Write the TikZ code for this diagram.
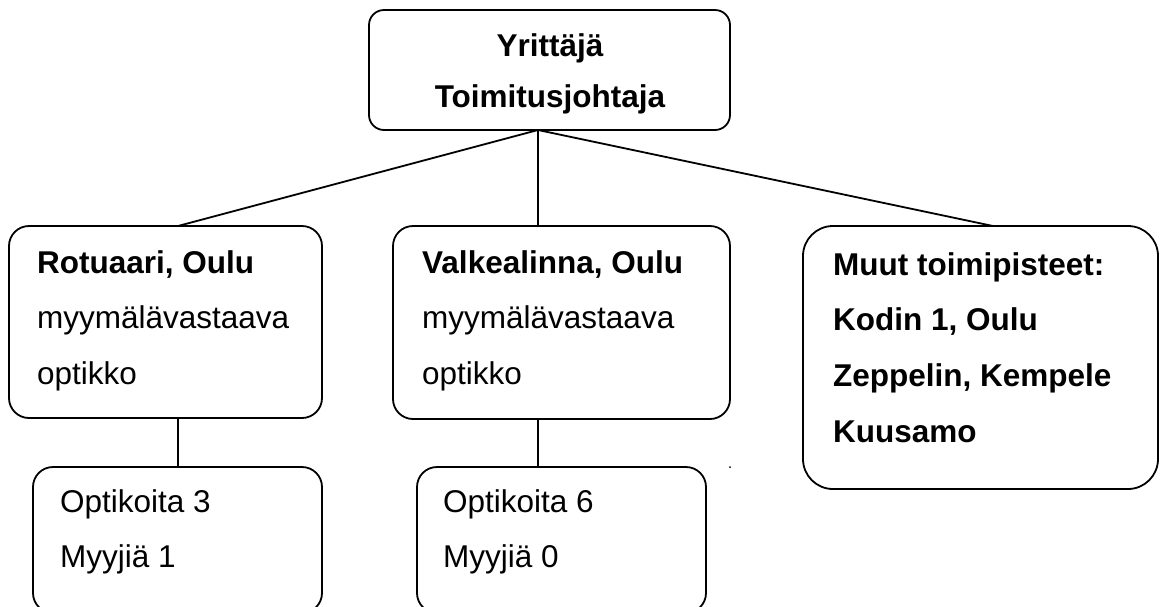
\documentclass[tikz,border=0pt]{standalone}
\usepackage{fontspec}
\setmainfont{Liberation Sans}
\begin{document}
\begin{tikzpicture}[x=1pt,y=-1pt,
  box/.style={draw, line width=1.8pt, rectangle, inner sep=0pt},
  txt/.style={anchor=base west, inner sep=0pt, font=\fontsize{31.5}{38}\selectfont},
  btxt/.style={txt, font=\fontsize{31.5}{38}\selectfont\bfseries},
  conn/.style={line width=1.8pt}]
\useasboundingbox (0,0) rectangle (1160,606);
\clip (0,0) rectangle (1160,606);
% boxes
\node[box, rounded corners=15pt, minimum width=361pt, minimum height=120pt] (top) at (549.5,70) {};
\node[box, rounded corners=20pt, minimum width=313pt, minimum height=192pt] (rot) at (165.5,322) {};
\node[box, rounded corners=20pt, minimum width=337pt, minimum height=193pt] (val) at (561.5,322.5) {};
\node[box, rounded corners=30pt, minimum width=355pt, minimum height=263pt] (muut) at (980.5,357.5) {};
\node[box, rounded corners=20pt, minimum width=289pt, minimum height=146pt] (rotb) at (177.5,540) {};
\node[box, rounded corners=20pt, minimum width=289pt, minimum height=146pt] (valb) at (561.5,540) {};
% texts
\node[btxt, anchor=base] (t1) at (550,56) {Yrittäjä};
\node[btxt, anchor=base] (t2) at (550,107) {Toimitusjohtaja};
\node[btxt] (r1) at (37,273) {Rotuaari, Oulu};
\node[txt] (r2) at (37,328) {myymälävastaava};
\node[txt] (r3) at (37,384) {optikko};
\node[btxt] (v1) at (422,273) {Valkealinna, Oulu};
\node[txt] (v2) at (422,328) {myymälävastaava};
\node[txt] (v3) at (422,384) {optikko};
\node[btxt] (m1) at (833,275) {Muut toimipisteet:};
\node[btxt] (m2) at (833,330) {Kodin 1, Oulu};
\node[btxt] (m3) at (833,386) {Zeppelin, Kempele};
\node[btxt] (m4) at (833,442) {Kuusamo};
\node[txt] (rb1) at (60,512) {Optikoita 3};
\node[txt] (rb2) at (60,567) {Myyjiä 1};
\node[txt] (vb1) at (443,512) {Optikoita 6};
\node[txt] (vb2) at (443,567) {Myyjiä 0};
% connectors
\coordinate (hub) at (538,130);
\coordinate (rotin) at (178,226);
\coordinate (valin) at (538,226);
\coordinate (muutin) at (993,226);
\draw[conn] (hub) -- (rotin);
\draw[conn] (hub) -- (valin);
\draw[conn] (hub) -- (muutin);
\draw[conn] (rot.south -| rotin) -- (rotb.north -| rotin);
\draw[conn] (val.south -| valin) -- (valb.north -| valin);
% stray dot
\fill (730,467) circle (1pt);
\end{tikzpicture}
\end{document}
